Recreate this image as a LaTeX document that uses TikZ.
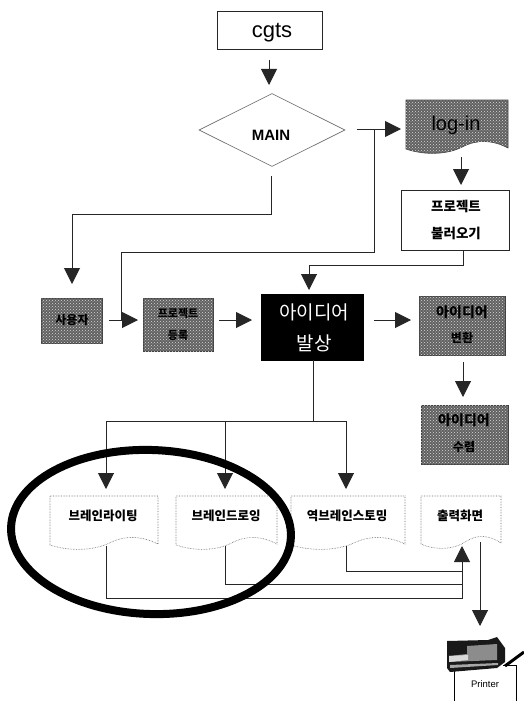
\documentclass[tikz,border=0pt]{standalone}
\usepackage{fontspec}
\setmainfont{Liberation Sans}
\newfontfamily\cjk{Noto Sans CJK KR}
\usetikzlibrary{arrows.meta,shapes.geometric,patterns}
\tikzset{
  x=1pt,y=-1pt,
  conn/.style={line width=1pt,draw=black!85},
  flow/.style={conn,-{Triangle[length=16pt,width=16pt]}},
  plainbox/.style={draw=black!85,line width=0.9pt,fill=white,minimum height=0pt,inner sep=0pt},
  shaded/.style={fill=black!62,draw=black!75,line width=0.6pt},
  grain/.style={pattern=crosshatch dots,pattern color=black!15},
  doc/.style={draw=black!60,line width=0.6pt,densely dotted,fill=white},
  lab/.style={font=\cjk,inner sep=0pt,align=center},
}
\newcommand{\wavebottom}[4]{% left, right, top, bottom
  (#1,#3) -- (#2,#3) -- (#2,#4-7)
  .. controls ({#1+(#2-#1)*0.85},{#4-15}) and ({#1+(#2-#1)*0.7},{#4-16}) .. ({#1+(#2-#1)*0.55},{#4-8})
  .. controls ({#1+(#2-#1)*0.42},{#4-1}) and ({#1+(#2-#1)*0.2},{#4+1}) .. (#1,#4-6) -- cycle}
\begin{document}
\begin{tikzpicture}
\useasboundingbox (0,0) rectangle (524,701);
\fill[white] (0,0) rectangle (524,701);

% nodes
\node[plainbox,minimum width=105pt,minimum height=38pt] (cgts) at (270,30) {};
\node[inner sep=0pt,font=\fontsize{22}{22}\selectfont] (cgtsl) at (272,33) {cgts};
\node[diamond,draw=black!60,line width=0.6pt,minimum width=146pt,minimum height=73pt,inner sep=0pt,aspect=2] (main) at (272,130) {};
\node[inner sep=0pt,font=\bfseries\fontsize{15}{15}\selectfont] (mainlab) at (271,135) {MAIN};

\fill[shaded] \wavebottom{406}{508}{100}{155};
\fill[grain] \wavebottom{406}{508}{100}{155};
\node[inner sep=0pt,font=\fontsize{20}{20}\selectfont] (login) at (456,125) {log-in};

\node[plainbox,minimum width=108pt,minimum height=60pt] (load) at (455,220) {};
\node[lab,font=\cjk\bfseries\fontsize{13.5}{13.5}\selectfont] (loadA) at (456,206) {프로젝트};
\node[lab,font=\cjk\bfseries\fontsize{13.5}{13.5}\selectfont] (loadB) at (456,233) {불러오기};

\fill[shaded] (41,298) rectangle (102,343);
\fill[grain] (41,298) rectangle (102,343);
\node[lab,font=\cjk\bfseries\fontsize{12}{12}\selectfont] (user) at (72,320) {사용자};

\fill[shaded] (143,298) rectangle (213,351);
\fill[grain] (143,298) rectangle (213,351);
\node[lab,font=\cjk\bfseries\fontsize{11}{11}\selectfont] (regA) at (178,313) {프로젝트};
\node[lab,font=\cjk\bfseries\fontsize{11}{11}\selectfont] (regB) at (178,335) {등록};

\node[fill=black,minimum width=103pt,minimum height=67pt,inner sep=0pt] (idea) at (312.5,327) {};
\node[lab,text=white,font=\cjk\fontsize{19}{19}\selectfont] (ideaA) at (314,312) {아이디어};
\node[lab,text=white,font=\cjk\fontsize{19}{19}\selectfont] (ideaB) at (314,343) {발상};

\fill[shaded] (419,296) rectangle (505,355);
\fill[grain] (419,296) rectangle (505,355);
\node[lab,font=\cjk\fontsize{14}{14}\selectfont\bfseries] (convA) at (462,312) {아이디어};
\node[lab,font=\cjk\fontsize{12}{12}\selectfont\bfseries] (convB) at (462,338) {변환};

\fill[shaded] (421,405) rectangle (508,464);
\fill[grain] (421,405) rectangle (508,464);
\node[lab,font=\cjk\fontsize{14}{14}\selectfont\bfseries] (convgA) at (464,420) {아이디어};
\node[lab,font=\cjk\fontsize{12}{12}\selectfont\bfseries] (convgB) at (464,447) {수렴};

\filldraw[doc] \wavebottom{50}{158}{496}{551};
\filldraw[doc] \wavebottom{176}{277}{496}{551};
\filldraw[doc] \wavebottom{291}{405}{496}{551};
\filldraw[doc] \wavebottom{421}{501}{496}{550};
\node[lab,font=\cjk\bfseries\fontsize{12.5}{12.5}\selectfont] (d1) at (103,516) {브레인라이팅};
\node[lab,font=\cjk\bfseries\fontsize{12.5}{12.5}\selectfont] (d2) at (226,516) {브레인드로잉};
\node[lab,font=\cjk\bfseries\fontsize{12.5}{12.5}\selectfont] (d3) at (347,516) {역브레인스토밍};
\node[lab,font=\cjk\bfseries\fontsize{12.5}{12.5}\selectfont] (d4) at (460,516) {출력화면};

% connector anchors
\coordinate (c1) at (269,60); \coordinate (c1e) at (269,85);
\coordinate (m1) at (357,129); \coordinate (m1e) at (401,129);
\coordinate (m2) at (271,176);
\coordinate (d1s) at (106,546); \coordinate (d2s) at (225,546); \coordinate (d3s) at (346,546);
\coordinate (d4in) at (462,546); \coordinate (d4s) at (480,542);

% connectors
\draw[flow] (c1) -- (c1e);
\draw[flow] (m1) -- (m1e);
\draw[flow] (m2) -- (271,214) -- (72,214) -- (72,284);
\draw[conn] (374,129) -- (374,252) -- (121,252) -- (121,320);
\draw[flow] (109,320) -- (138,320);
\draw[flow] (219,320) -- (252,320);
\draw[flow] (374,320) -- (411,320);
\draw[flow] (463,362) -- (463,397);
\draw[flow] (461,157) -- (461,185);
\draw[flow] (463,250) -- (463,265) -- (309,265) -- (309,290);
\draw[conn] (313,360) -- (313,421);
\draw[flow] (346,421) -- (106,421) -- (106,489);
\draw[flow] (225,421) -- (225,489);
\draw[flow] (346,421) -- (346,489);
\draw[conn] (d1s) -- (106,598) -- (462,598) -- (462,584);
\draw[conn] (d2s) -- (225,584) -- (462,584);
\draw[flow] (d3s) -- (346,571) -- (462,571) -- (d4in);
\draw[conn] (462,598) -- (462,560);
\draw[flow] (d4s) -- (480,626);

% ellipse
\draw[line width=8pt,black,rotate around={-2:(151,532)}] (151,532) ellipse [x radius=140,y radius=82];

% printer
\draw[line width=3pt] (505,666) -- (524,652);
\draw[line width=0.9pt] (454,668) -- (454,701);
\draw[line width=0.9pt] (503,665) -- (516,665) -- (516,701);
\fill[black!90] (447,641) -- (488,640) -- (497,637) -- (505,648) -- (505,662) -- (497,668) -- (450,672) -- (447,668) -- cycle;
\fill[black!45] (467,646) -- (497,644) -- (497,660) -- (449,662) -- (449,656) -- (467,654) -- cycle;
\fill[black!15] (449,656) -- (468,655) -- (468,660) -- (449,662) -- cycle;
\fill[black!35] (450,665) -- (498,663) -- (498,665) -- (450,668) -- cycle;
\node[inner sep=0pt,font=\fontsize{9.5}{9.5}\selectfont] (pr) at (485,684) {Printer};
\end{tikzpicture}
\end{document}
